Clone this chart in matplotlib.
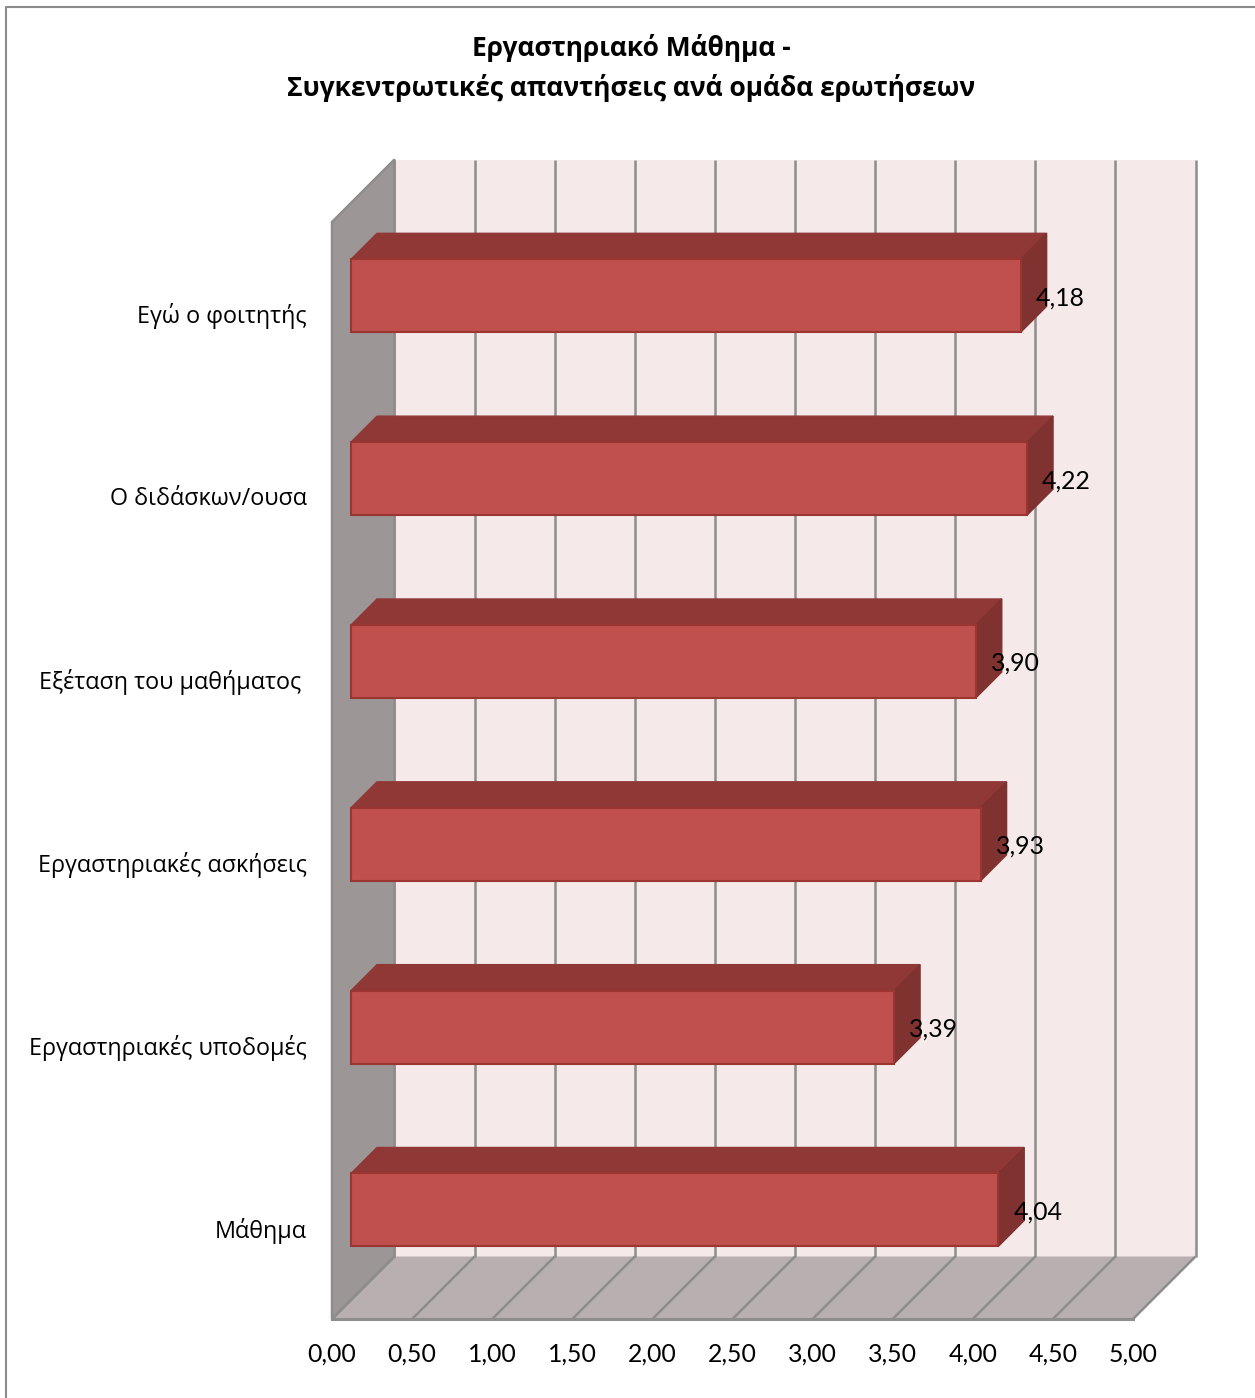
#!/usr/bin/env python

import matplotlib
matplotlib.use('Agg')
import matplotlib.pyplot as plt
from matplotlib.lines import Line2D
from matplotlib.patches import Polygon

plt.rcParams['font.family'] = ['Open Sans', 'DejaVu Sans']

title = 'Εργαστηριακό Μάθημα -\nΣυγκεντρωτικές απαντήσεις ανά ομάδα ερωτήσεων'
# bottom to top, the way the axis counts
categories = ['Μάθημα', 'Εργαστηριακές υποδομές', 'Εργαστηριακές ασκήσεις',
              'Εξέταση του μαθήματος ', 'Ο διδάσκων/ουσα', 'Εγώ ο φοιτητής']
values = [4.04, 3.39, 3.93, 3.90, 4.22, 4.18]
value_labels = ['4,04', '3,39', '3,93', '3,90', '4,22', '4,18']
x_ticks = [0, 0.5, 1, 1.5, 2, 2.5, 3, 3.5, 4, 4.5, 5]
x_tick_labels = ['0,00', '0,50', '1,00', '1,50', '2,00', '2,50',
                 '3,00', '3,50', '4,00', '4,50', '5,00']

W, H = 1255, 1398
fig = plt.figure(figsize=(W / 100, H / 100), dpi=100)

# Front plane of the fake 3D box, pixel edges measured on the reference
left, right, top, bottom = 332, 1133, 222, 1319
ax = fig.add_axes([left / W, 1 - bottom / H, (right - left) / W, (bottom - top) / H])
ax.set_xlim(0, 5)
ax.set_ylim(0, 6)
ax.patch.set_visible(False)
for s in ax.spines.values():
    s.set_visible(False)

# one pixel in data units
px = 5 / (right - left)
py = 6 / (bottom - top)

box_dx, box_dy = 62.5 * px, 62.5 * py
bar_dx, bar_dy = 26 * px, 26 * py
bar_x0 = 19 * px
bar_h = 73 * py
bar_shift = 17.6 * py

GRID = '#8f8c8c'
NUM_FONT = ['Lato', 'Open Sans']


def poly(pts, face, edge, lw=1.5, z=1):
    ax.add_patch(Polygon(pts, closed=True, facecolor=face, edgecolor=edge,
                         linewidth=lw, zorder=z, clip_on=False, joinstyle='miter'))


### Box walls ###
poly([(box_dx, box_dy), (5 + box_dx, box_dy), (5 + box_dx, 6 + box_dy), (box_dx, 6 + box_dy)],
     '#f5e9e9', 'none', 0, 1)
poly([(0, 0), (5, 0), (5 + box_dx, box_dy), (box_dx, box_dy)], '#b8b0b0', 'none', 0, 1)
poly([(0, 0), (box_dx, box_dy), (box_dx, 6 + box_dy), (0, 6)], '#9c9696', GRID, 1.8, 2)

for v in x_ticks:
    ax.plot([v + box_dx, v + box_dx], [box_dy, 6 + box_dy], color=GRID, lw=1.8, zorder=2,
            clip_on=False, solid_capstyle='butt')
    ax.plot([v, v + box_dx], [0, box_dy], color=GRID, lw=1.8, zorder=2,
            clip_on=False, solid_capstyle='butt')
ax.plot([0, 5], [0, 0], color=GRID, lw=2.2, zorder=3, clip_on=False)

### Bars ###
for i, (val, lab) in enumerate(zip(values, value_labels)):
    y0 = i + 0.5 + bar_shift - bar_h / 2
    y1 = y0 + bar_h
    x0 = bar_x0
    x1 = bar_x0 + val
    poly([(x0, y1), (x1, y1), (x1 + bar_dx, y1 + bar_dy), (x0 + bar_dx, y1 + bar_dy)],
         '#8f3836', '#8f3836', 1, 4)
    poly([(x1, y0), (x1 + bar_dx, y0 + bar_dy), (x1 + bar_dx, y1 + bar_dy), (x1, y1)],
         '#7f3230', '#7f3230', 1, 4)
    poly([(x0, y0), (x1, y0), (x1, y1), (x0, y1)], '#c0504d', '#9b3532', 1.5, 5)
    ax.text(x1 + 15 * px, (y0 + y1) / 2 - 2 * py, lab, fontsize=17.9, family=NUM_FONT,
            color='black', ha='left', va='center', zorder=6)

### Axes text ###
ax.set_xticks(x_ticks)
ax.set_xticklabels(x_tick_labels, fontsize=17.9, family=NUM_FONT)
ax.set_yticks([i + 0.5 for i in range(len(categories))])
ax.set_yticklabels(categories, fontsize=16.8)
ax.tick_params(axis='x', length=0, pad=17)
ax.tick_params(axis='y', length=0, pad=18)

fig.text(631 / W, 1 - 68 / H, title, fontsize=19, fontweight='bold', color='black',
         ha='center', va='center', linespacing=1.5)

# Chart area border, only left and top are inside the crop
fig.add_artist(Line2D([6 / W, 6 / W, 1], [0, 1 - 7 / H, 1 - 7 / H], color='#8c8c8c', lw=1.5))

plt.savefig('out.png', dpi=100)
